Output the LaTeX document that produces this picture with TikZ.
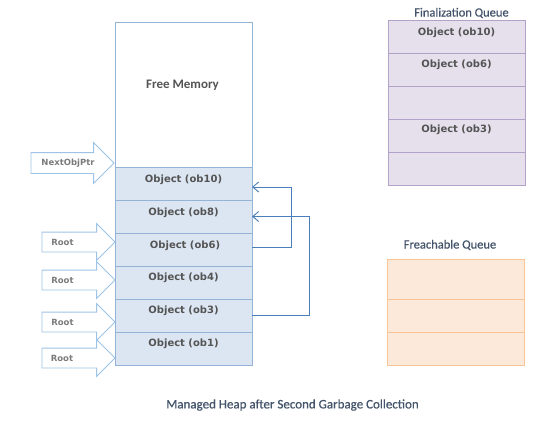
\documentclass[tikz,border=0pt]{standalone}
\usepackage{fontspec}
\setmainfont{Carlito}
\newfontfamily\dvsans{DejaVu Sans}
\newfontfamily\titlefont{Carlito}[FakeBold=0.6]
\usetikzlibrary{shapes.arrows,arrows.meta,calc}
\definecolor{heapfill}{HTML}{DCE6F2}
\definecolor{heapdraw}{HTML}{95B3D7}
\definecolor{arrowdraw}{HTML}{9DC3E6}
\definecolor{conncol}{HTML}{4A7EBB}
\definecolor{finfill}{HTML}{E5E0EC}
\definecolor{findraw}{HTML}{B3A2C7}
\definecolor{frfill}{HTML}{FDE9D9}
\definecolor{frdraw}{HTML}{F9C496}
\definecolor{objtext}{HTML}{545454}
\definecolor{ptrtext}{HTML}{7A7A7A}
\definecolor{titletext}{HTML}{44546A}
\begin{document}
\begin{tikzpicture}[x=1bp,y=-1bp,
  cellbase/.style={line width=0.8bp, minimum width=137bp, minimum height=33bp,
    anchor=north west, inner sep=0pt, outer sep=0pt},
  heapcell/.style={cellbase, draw=heapdraw, fill=heapfill},
  freecell/.style={cellbase, draw=heapdraw, fill=white, minimum height=145bp},
  fincell/.style={cellbase, draw=findraw, fill=finfill, minimum height=32.9bp},
  frcell/.style={cellbase, draw=frdraw, fill=frfill},
  objlbl/.style={font=\dvsans\bfseries\fontsize{10bp}{12bp}\selectfont, text=objtext, inner sep=0pt},
  ptrlbl/.style={font=\dvsans\bfseries\fontsize{8.5bp}{10bp}\selectfont, text=ptrtext, inner sep=0pt},
  titlelbl/.style={font=\titlefont\fontsize{12.5bp}{15bp}\selectfont, text=titletext, inner sep=0pt},
  ptrarrow/.style={single arrow, draw=arrowdraw, line width=0.8bp,
    single arrow head extend=10bp, single arrow tip angle=90,
    minimum height=83bp, text height=0pt, text depth=0pt, text width=0pt,
    inner xsep=0pt, inner ysep=10bp, anchor=tip, outer sep=0pt},
  rootarrow/.style={ptrarrow, single arrow head extend=8.5bp, inner ysep=9.5bp,
    minimum height=73bp},
  conn/.style={draw=conncol, line width=0.9bp, -{Straight Barb[length=6bp,width=10bp]}}
]
\useasboundingbox (0,0) rectangle (549,426);

% Managed heap
\node[freecell] (free) at (115,22) {};
\node[font=\bfseries\fontsize{13bp}{15bp}\selectfont, text=objtext, inner sep=0pt] (freelbl) at (182.5,85) {Free Memory};
\node[heapcell] (ob10) at (115,167) {};
\node[heapcell] (ob8) at (ob10.south west) {};
\node[heapcell] (ob6) at (ob8.south west) {};
\node[heapcell] (ob4) at (ob6.south west) {};
\node[heapcell] (ob3) at (ob4.south west) {};
\node[heapcell] (ob1) at (ob3.south west) {};
\node[objlbl] (t10) at ($(ob10.north)+(0,12.5)$) {Object (ob10)};
\node[objlbl] (t8) at ($(ob8.north)+(0,12.5)$) {Object (ob8)};
\node[objlbl] (t6) at ($(ob6.north)+(1.5,12.5)$) {Object (ob6)};
\node[objlbl] (t4) at ($(ob4.north)+(0,11.5)$) {Object (ob4)};
\node[objlbl] (t3) at ($(ob3.north)+(0,11.5)$) {Object (ob3)};
\node[objlbl] (t1) at ($(ob1.north)+(0,11.5)$) {Object (ob1)};

% Pointer arrows
\node[ptrarrow] (nextptr) at (114,163) {};
\node[ptrlbl] (nextlbl) at (68,163.5) {NextObjPtr};
\node[rootarrow] (root1) at (115,242) {};
\node[rootarrow] (root2) at (115,280) {};
\node[rootarrow] (root3) at (115,322) {};
\node[rootarrow] (root4) at (115,358) {};
\node[ptrlbl] (rl1) at (62.5,242.5) {Root};
\node[ptrlbl] (rl2) at (62.5,280) {Root};
\node[ptrlbl] (rl3) at (62.5,322.5) {Root};
\node[ptrlbl] (rl4) at (62,358) {Root};

% References
\draw[conn] ([yshift=2.5bp]ob6.east) -- ++(39,0) |- ([yshift=-3.5bp]ob10.east);
\draw[conn] (ob3.east) -- ++(57,0) |- (ob8.east);

% Finalization queue
\node[titlelbl] (fintitle) at (461.5,13) {Finalization Queue};
\node[fincell] (f1) at (388,20.5) {};
\node[fincell] (f2) at (f1.south west) {};
\node[fincell] (f3) at (f2.south west) {};
\node[fincell] (f4) at (f3.south west) {};
\node[fincell] (f5) at (f4.south west) {};
\node[objlbl] (ft1) at ($(f1.north)+(0,12)$) {Object (ob10)};
\node[objlbl] (ft2) at ($(f2.north)+(0,11)$) {Object (ob6)};
\node[objlbl] (ft4) at ($(f4.north)+(0,10.5)$) {Object (ob3)};

% Freachable queue
\node[titlelbl] (frtitle) at (450,245) {Freachable Queue};
\node[frcell, minimum height=40bp] (r1) at (387,259.3) {};
\node[frcell] (r2) at (r1.south west) {};
\node[frcell] (r3) at (r2.south west) {};

% Caption
\node[titlelbl, font=\titlefont\fontsize{13bp}{15bp}\selectfont] (caption) at (292.5,405) {Managed Heap after Second Garbage Collection};
\end{tikzpicture}
\end{document}
